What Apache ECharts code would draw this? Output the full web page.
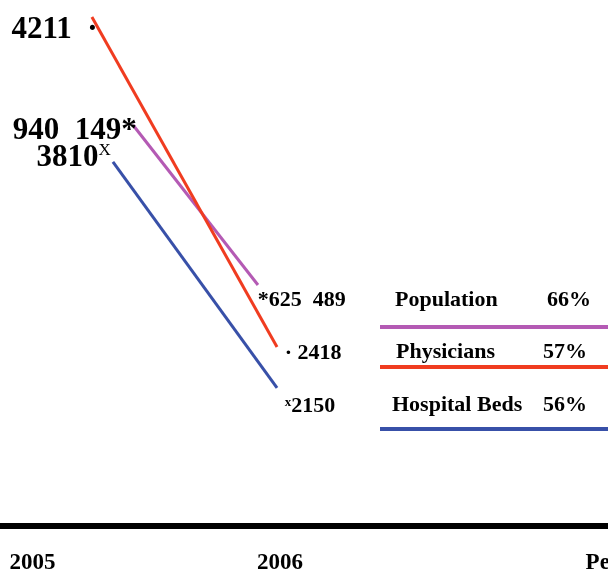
<!DOCTYPE html>
<html><head><meta charset="utf-8">
<script src="https://cdn.jsdelivr.net/npm/echarts@6/dist/echarts.min.js"></script>
<style>html,body{margin:0;padding:0;background:#fff}#c{width:608px;height:577px}</style>
</head><body><div id="c"></div>
<script>
// ---- data ----
const years = [2005, 2006];
const seriesNames = ['Population', 'Physicians', 'Hospital Beds'];
const population = [940149, 625489];
const physicians = [4211, 2418];
const hospitalBeds = [3810, 2150];
const percentLabels = ['66%', '57%', '56%'];
const axisLabelTexts = ['2005', '2006', 'Percent'];

// ---- layout / style ----
const FONT = "'Liberation Serif', 'Times New Roman', serif";
const colors = ['#b45ab4', '#f03c20', '#3850a8'];
const startShift = [0.406, 0.24, 0.325];
const endShift = [-0.089, -0.012, -0.012];
const yRanges = [[151537, 1185975], [1445, 4303], [1136, 5000]];
const percentPos = 2007.386;

function fmt(n) {
  if (n >= 100000) {
    const s = String(n);
    return s.slice(0, s.length - 3) + '  ' + s.slice(s.length - 3);
  }
  return String(n);
}

const values = [population, physicians, hospitalBeds];

const bigRich = { fontFamily: FONT, fontWeight: 'bold', fontSize: 31, color: '#000' };
const smallRich = { fontFamily: FONT, fontWeight: 'bold', fontSize: 22, color: '#000' };

const startLabels = [
  { text: '{n|' + fmt(population[0]) + '*}', pos: [4, 6], align: 'right',
    rich: { n: bigRich } },
  { text: '{n|' + fmt(physicians[0]) + '  ·}', pos: [6, 13], align: 'right',
    rich: { n: bigRich } },
  { text: '{n|' + fmt(hospitalBeds[0]) + '}{s|X}', pos: [-2, -4], align: 'right',
    rich: { n: bigRich, s: { fontFamily: FONT, fontSize: 17, color: '#000', verticalAlign: 'top', lineHeight: 17 } } }
];
const endLabels = [
  { text: '{n|*' + fmt(population[1]) + '}', pos: [0, 16], align: 'left',
    rich: { n: smallRich } },
  { text: '{n|· ' + fmt(physicians[1]) + '}', pos: [8, 7], align: 'left',
    rich: { n: smallRich } },
  { text: '{s|x}{n|' + fmt(hospitalBeds[1]) + '}', pos: [8, 19], align: 'left',
    rich: { n: smallRich, s: { fontFamily: FONT, fontWeight: 'bold', fontSize: 13, color: '#000', verticalAlign: 'top', lineHeight: 13 } } }
];

function mkLabel(l) {
  return {
    show: true, position: l.pos, align: l.align, verticalAlign: 'middle',
    formatter: l.text, rich: l.rich, color: '#000', opacity: 1
  };
}

const series = seriesNames.map((name, i) => ({
  name: name,
  type: 'line',
  yAxisIndex: i,
  symbol: 'circle',
  symbolSize: 0.5,
  showSymbol: true,
  itemStyle: { color: 'rgba(0,0,0,0)', borderWidth: 0 },
  lineStyle: { color: colors[i], width: 3 },
  silent: true,
  z: 3,
  data: [
    { value: [years[0] + startShift[i], values[i][0]], label: mkLabel(startLabels[i]) },
    { value: [years[1] + endShift[i], values[i][1]], label: mkLabel(endLabels[i]) }
  ]
}));

// legend drawn as text + coloured rules
const legNameX = [395, 396, 392];
const legPctX = [547, 543, 543];
const legTextY = [300, 352, 405];
const legLineY = [327, 367, 429];
const graphic = [];
seriesNames.forEach((name, i) => {
  graphic.push({ type: 'text', x: legNameX[i], y: legTextY[i], silent: true,
    style: { text: name, fill: '#000', font: 'bold 22px ' + FONT, verticalAlign: 'middle', align: 'left' } });
  graphic.push({ type: 'text', x: legPctX[i], y: legTextY[i], silent: true,
    style: { text: percentLabels[i], fill: '#000', font: 'bold 22px ' + FONT, verticalAlign: 'middle', align: 'left' } });
  graphic.push({ type: 'line', silent: true,
    shape: { x1: 380, y1: legLineY[i], x2: 610, y2: legLineY[i] },
    style: { stroke: colors[i], lineWidth: 4 } });
});

const labelValues = [years[0], years[1], percentPos];

const chart = echarts.init(document.getElementById('c'), null, { renderer: 'canvas' });
chart.setOption({
  animation: false,
  backgroundColor: '#fff',
  grid: { left: -91.25, right: -167, top: 0, bottom: 51, containLabel: false, outerBoundsMode: 'none' },
  xAxis: {
    type: 'value', min: 2004.5, max: 2008,
    axisLine: { show: true, onZero: false, lineStyle: { color: '#000', width: 6 } },
    axisTick: { show: false },
    splitLine: { show: false },
    axisLabel: {
      show: true, customValues: labelValues, margin: 26,
      fontFamily: FONT, fontWeight: 'bold', fontSize: 23, color: '#000',
      formatter: function (v) {
        const k = labelValues.findIndex(x => Math.abs(x - v) < 1e-6);
        return k >= 0 ? axisLabelTexts[k] : '';
      }
    }
  },
  yAxis: yRanges.map(r => ({ type: 'value', min: r[0], max: r[1], show: false, splitLine: { show: false } })),
  series: series,
  graphic: graphic
});
</script>
</body></html>
